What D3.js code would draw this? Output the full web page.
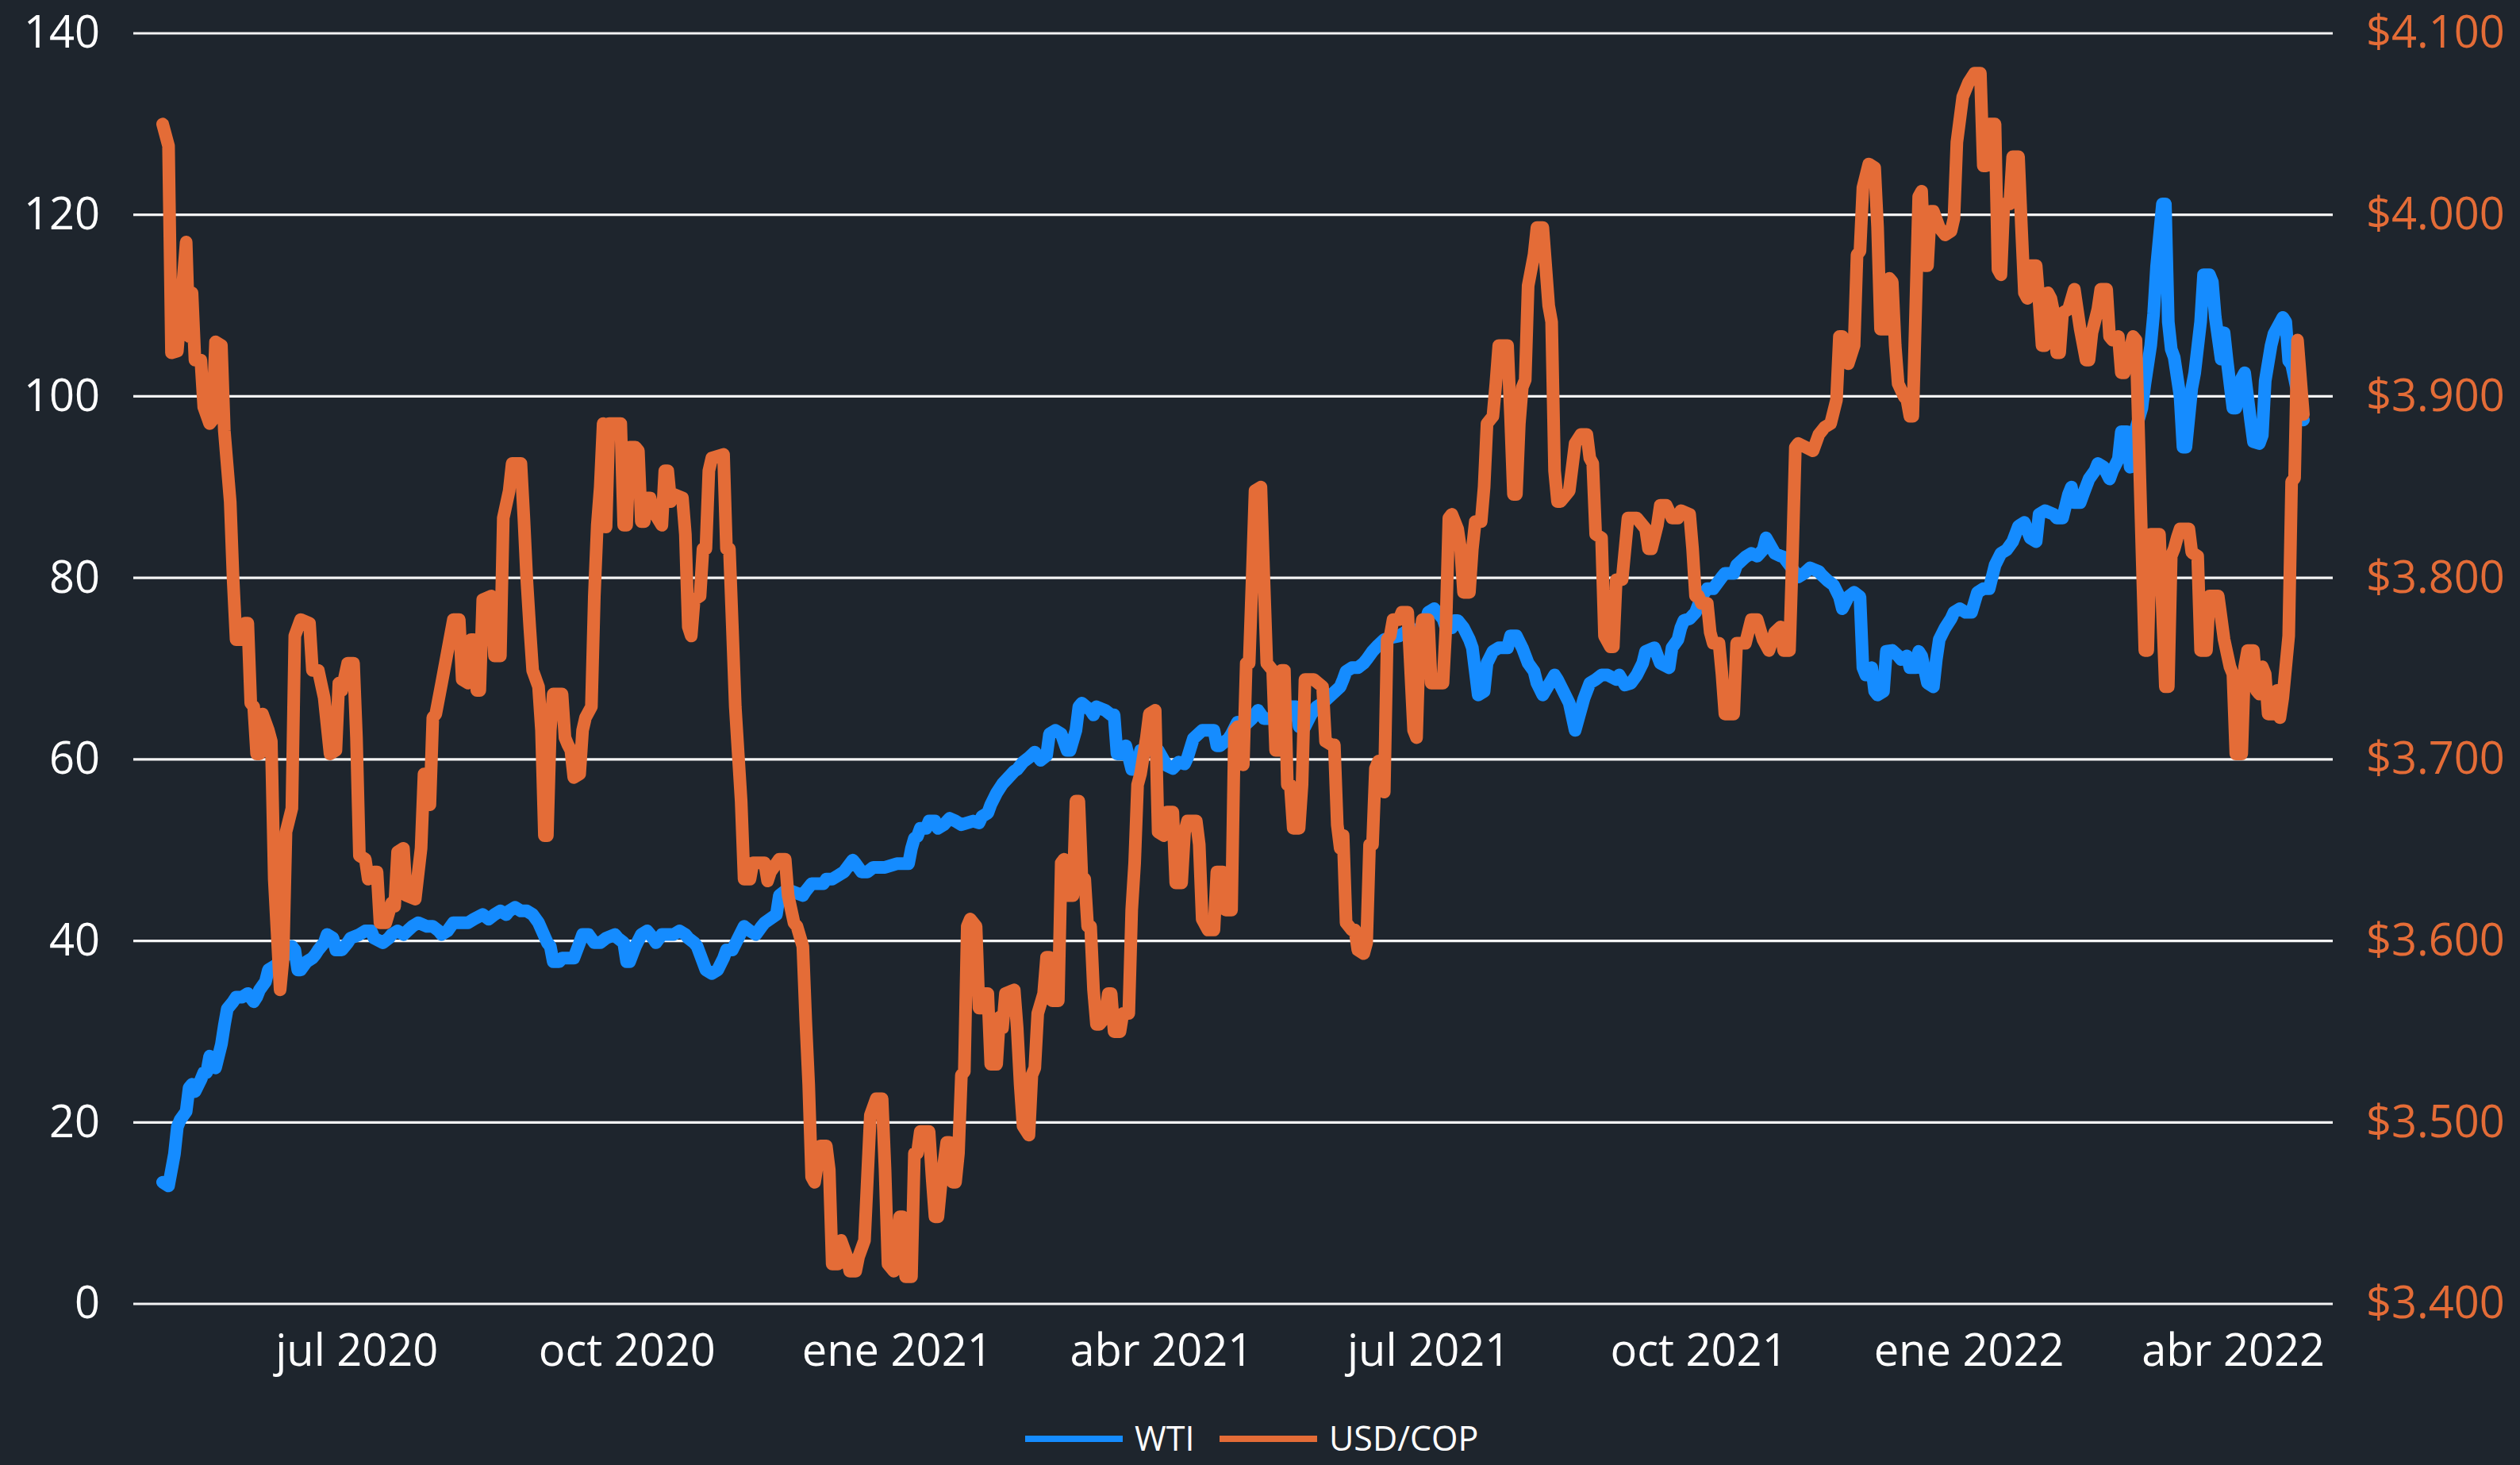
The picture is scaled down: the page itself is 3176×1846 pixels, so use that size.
<!DOCTYPE html>
<html>
<head>
<meta charset="utf-8">
<script src="https://cdn.jsdelivr.net/npm/d3@7"></script>
<style>
  html, body { margin: 0; padding: 0; background: #1e252d; }
  svg { display: block; }
</style>
</head>
<body>
<svg id="chart" width="3176" height="1846"></svg>
<script>
// ---------------- DATA ----------------
// Dates are stored as day offsets from this base date (2020-07-01)
const baseDate = "2020-07-01";
const axisStart = "2020-04-16";
const axisEnd = "2022-05-05";

const xTickDates = ["2020-07-01", "2020-10-01", "2021-01-01", "2021-04-01",
                    "2021-07-01", "2021-10-01", "2022-01-01", "2022-04-01"];
const xTickLabels = ["jul 2020", "oct 2020", "ene 2021", "abr 2021",
                     "jul 2021", "oct 2021", "ene 2022", "abr 2022"];
const leftTicks = [0, 20, 40, 60, 80, 100, 120, 140];
const rightTicks = [3400, 3500, 3600, 3700, 3800, 3900, 4000, 4100];
const seriesNames = ["WTI", "USD/COP"];

// WTI (USD per barrel): [days since baseDate, value]
const wti = [[-66,13.4],[-64,13],[-62,16.5],[-61,19.5],[-60,20.3],[-58,21.2],[-57,23.8],[-56,24.2],[-55,23.4],[-53,24.7],[-52,25.5],[-51,25.5],[-50,27.3],[-48,26],[-46,28.6],[-45,30.7],[-44,32.5],[-42,33.3],[-41,33.8],[-39,33.8],[-37,34.2],[-35,33.3],[-34,33.8],[-33,34.6],[-31,35.5],[-30,36.8],[-28,37.2],[-26,37.7],[-24,38.5],[-22,39.4],[-21,39],[-20,36.8],[-19,36.8],[-17,37.7],[-15,38.1],[-14,38.5],[-13,39],[-11,39.8],[-10,40.7],[-8,40.3],[-7,39],[-5,39],[-3,39.8],[-2,40.3],[1,40.7],[3,41.1],[5,41.1],[6,40.3],[9,39.8],[11,40.3],[12,40.7],[14,41.1],[16,40.7],[19,41.6],[21,42],[24,41.6],[26,41.6],[28,41.1],[29,40.7],[31,41.1],[33,42],[36,42],[38,42],[40,42.4],[43,42.9],[45,42.4],[47,42.9],[49,43.3],[51,42.9],[52,43.3],[54,43.7],[56,43.3],[58,43.3],[60,42.9],[62,42],[65,39.8],[66,39.4],[67,37.7],[69,37.7],[70,38.1],[72,38.1],[74,38.1],[76,39.8],[77,40.7],[79,40.7],[81,39.8],[83,39.8],[85,40.3],[88,40.7],[89,40.3],[91,39.8],[92,37.7],[93,37.7],[95,39.4],[97,40.7],[99,41.1],[101,40.3],[102,39.8],[104,40.7],[106,40.7],[108,40.7],[110,41.1],[112,40.7],[113,40.3],[115,39.8],[116,39.4],[119,36.8],[121,36.4],[123,36.8],[125,38.1],[126,39],[128,39],[130,40.3],[132,41.6],[134,41.1],[136,40.7],[138,41.6],[139,42],[143,42.9],[144,45],[146,45.5],[148,45.5],[152,45],[153,45.5],[155,46.3],[157,46.3],[159,46.3],[160,46.8],[162,46.8],[164,47.2],[166,47.6],[169,48.9],[170,48.5],[172,47.6],[174,47.6],[176,48.1],[178,48.1],[180,48.1],[184,48.5],[186,48.5],[188,48.5],[189,50.2],[190,51.3],[191,51.5],[192,52.4],[194,52.4],[195,53.2],[197,53.2],[198,52.4],[200,52.8],[202,53.5],[204,53.2],[206,52.8],[208,53],[210,53.2],[212,53],[213,53.7],[215,54.1],[216,55],[218,56.3],[220,57.3],[222,58],[224,58.7],[225,58.9],[227,59.7],[229,60.2],[231,60.8],[233,59.9],[235,60.4],[236,62.8],[238,63.2],[240,62.8],[242,61],[243,61],[245,63.2],[246,65.8],[247,66.2],[250,65.4],[251,64.9],[252,65.8],[255,65.4],[257,64.9],[258,64.9],[259,60.6],[261,60.6],[262,61.5],[264,58.9],[266,58.9],[267,61],[269,61],[273,61],[276,59.3],[278,59],[280,59.7],[282,59.5],[283,60.2],[285,62.3],[288,63.2],[290,63.2],[292,63.2],[293,61.5],[294,61.5],[297,62.3],[298,62.8],[300,64.1],[302,63.6],[305,64.5],[307,65.4],[309,64.5],[312,64.5],[313,64.1],[316,64.1],[318,65.8],[320,65.8],[321,63.6],[323,63.6],[325,64.9],[327,65.8],[329,66.2],[332,67.1],[335,68],[336,68.8],[337,69.7],[339,70.1],[341,70.1],[343,70.6],[344,71],[346,71.9],[348,72.6],[350,73.2],[352,73.4],[355,73.6],[357,74],[359,74.5],[361,73.6],[363,74],[365,76.2],[367,76.6],[370,75.5],[371,74.5],[373,74.5],[374,75.3],[375,75.3],[377,74.5],[379,73.2],[380,72.3],[382,67.1],[384,67.5],[385,70.6],[387,71.9],[389,72.3],[392,72.3],[393,73.6],[395,73.6],[397,72.3],[399,70.6],[401,69.7],[402,68.4],[404,67.1],[408,69.3],[409,68.8],[411,67.5],[413,66.2],[415,63.2],[418,66.7],[420,68.4],[422,68.8],[424,69.3],[426,69.3],[429,68.8],[430,69.3],[432,68.2],[434,68.4],[436,69.3],[438,70.6],[439,71.9],[442,72.3],[444,70.6],[447,70.1],[448,72.3],[450,73.2],[451,74.5],[452,75.3],[454,75.5],[456,76.2],[458,77.9],[460,78.8],[462,78.8],[465,80.1],[466,80.5],[469,80.5],[470,81.4],[473,82.3],[475,82.7],[477,82.4],[479,83.1],[480,84.4],[483,82.7],[485,82.4],[486,82.3],[489,81],[491,80.1],[493,80.5],[495,81.1],[498,80.7],[499,80.3],[501,79.7],[503,79.2],[505,77.9],[506,76.6],[508,77.9],[510,78.4],[512,77.9],[513,70.1],[514,69.3],[515,69.3],[516,70.1],[517,67.5],[518,67.1],[520,67.5],[521,71.9],[523,72],[525,71.4],[526,71],[528,71.4],[529,70.1],[531,70.1],[532,71.9],[533,71.4],[535,68.4],[537,68],[538,71],[539,73.2],[541,74.5],[543,75.5],[544,76.2],[546,76.6],[548,76.2],[550,76.2],[552,78.4],[554,78.8],[556,78.8],[558,81.4],[560,82.7],[562,83.1],[564,84],[566,85.7],[568,86.1],[570,84.4],[572,84],[573,87],[575,87.4],[578,87],[579,86.6],[581,86.6],[583,89.2],[584,90],[585,88.3],[587,88.3],[588,89.2],[590,90.9],[592,91.8],[593,92.6],[595,92.2],[597,90.9],[598,91.8],[600,93.1],[601,96.1],[603,96.1],[604,92.2],[606,96.5],[608,98.7],[609,101.3],[611,105.6],[612,109.1],[613,114.3],[615,121.2],[616,121.2],[617,108.2],[618,105.2],[619,104.3],[621,100],[622,94.4],[623,94.4],[625,100.9],[626,102.6],[628,108.2],[629,113.4],[631,113.4],[632,112.6],[633,108.7],[635,104.1],[636,107],[637,104],[639,98.7],[640,98.7],[642,102],[643,102.6],[645,97.4],[646,95],[648,94.8],[649,95.7],[650,101.7],[652,105.6],[653,106.9],[656,108.7],[657,108.2],[658,103.9],[659,103.5],[661,100.4],[662,98.3],[663,97.4]];

// USD/COP (pesos per dollar): [days since baseDate, value]
const usdcop = [[-66,4050],[-64,4038],[-63,3924],[-61,3925],[-58,3985],[-57,3933],[-56,3957],[-55,3920],[-53,3920],[-52,3894],[-50,3885],[-49,3887],[-48,3930],[-46,3928],[-45,3881],[-43,3842],[-42,3799],[-41,3766],[-39,3766],[-38,3775],[-37,3775],[-36,3731],[-35,3729],[-34,3703],[-33,3703],[-32,3725],[-30,3716],[-29,3710],[-28,3634],[-26,3573],[-25,3590],[-24,3660],[-22,3673],[-21,3768],[-19,3777],[-16,3775],[-15,3749],[-13,3749],[-11,3734],[-9,3703],[-7,3705],[-6,3742],[-5,3738],[-3,3753],[-1,3753],[0,3712],[1,3647],[3,3645],[4,3634],[6,3638],[7,3638],[8,3610],[10,3610],[12,3621],[13,3619],[14,3649],[16,3651],[17,3625],[20,3623],[22,3651],[23,3692],[24,3692],[25,3675],[26,3723],[27,3725],[29,3742],[33,3777],[35,3777],[36,3744],[38,3742],[39,3766],[40,3766],[41,3738],[42,3738],[43,3788],[46,3790],[47,3757],[49,3757],[50,3833],[52,3848],[53,3863],[56,3863],[57,3833],[58,3799],[59,3773],[60,3749],[62,3740],[63,3716],[64,3658],[65,3658],[66,3716],[67,3736],[70,3736],[71,3712],[72,3708],[73,3705],[74,3690],[76,3692],[77,3716],[78,3723],[80,3729],[81,3790],[82,3829],[83,3850],[84,3885],[85,3828],[86,3885],[89,3885],[90,3885],[91,3829],[92,3829],[93,3872],[95,3872],[96,3870],[97,3831],[98,3831],[99,3844],[100,3844],[101,3837],[104,3829],[105,3859],[106,3859],[107,3842],[108,3846],[111,3844],[112,3824],[113,3773],[114,3768],[115,3788],[117,3790],[118,3816],[119,3816],[120,3859],[121,3866],[125,3868],[126,3816],[127,3816],[128,3773],[129,3729],[131,3677],[132,3634],[134,3634],[135,3643],[137,3643],[139,3643],[140,3633],[141,3638],[144,3645],[146,3645],[147,3625],[149,3610],[150,3608],[152,3597],[153,3556],[154,3521],[155,3470],[156,3467],[158,3487],[160,3487],[161,3474],[162,3422],[164,3422],[165,3435],[167,3426],[168,3418],[170,3418],[171,3426],[173,3435],[175,3504],[177,3513],[179,3513],[180,3474],[181,3422],[183,3418],[185,3448],[186,3448],[187,3415],[189,3415],[190,3483],[191,3483],[192,3495],[195,3495],[196,3470],[197,3448],[198,3448],[199,3465],[201,3489],[202,3489],[203,3467],[204,3467],[205,3483],[206,3526],[207,3528],[208,3608],[209,3612],[211,3608],[212,3563],[213,3563],[214,3571],[215,3571],[216,3532],[218,3532],[219,3558],[220,3552],[221,3571],[224,3573],[225,3552],[226,3521],[227,3498],[229,3493],[230,3526],[231,3530],[232,3560],[234,3571],[235,3591],[236,3591],[237,3567],[239,3567],[240,3643],[241,3645],[242,3625],[244,3625],[245,3677],[246,3677],[247,3636],[248,3634],[249,3608],[250,3608],[251,3573],[252,3554],[253,3554],[255,3558],[256,3571],[257,3571],[258,3550],[260,3550],[261,3560],[263,3560],[264,3617],[265,3643],[266,3686],[267,3692],[269,3712],[270,3725],[272,3727],[273,3660],[275,3658],[276,3671],[278,3671],[279,3632],[281,3632],[282,3660],[283,3666],[286,3666],[287,3653],[288,3612],[290,3606],[292,3606],[293,3638],[295,3638],[296,3617],[298,3617],[299,3716],[300,3718],[301,3699],[302,3697],[303,3753],[304,3753],[305,3799],[306,3848],[308,3850],[309,3800],[310,3753],[312,3749],[313,3705],[314,3705],[315,3749],[316,3749],[317,3686],[318,3686],[319,3662],[321,3662],[322,3686],[323,3744],[326,3744],[329,3740],[330,3710],[332,3708],[333,3708],[334,3664],[335,3651],[336,3658],[337,3610],[339,3606],[340,3606],[341,3595],[343,3593],[344,3599],[345,3653],[346,3653],[347,3695],[348,3699],[350,3682],[351,3766],[352,3768],[353,3777],[355,3777],[356,3781],[358,3781],[360,3716],[361,3712],[362,3766],[363,3777],[365,3777],[366,3742],[370,3742],[371,3773],[372,3833],[373,3835],[375,3827],[376,3816],[377,3792],[379,3792],[380,3816],[381,3831],[383,3831],[384,3850],[385,3885],[387,3889],[388,3907],[389,3928],[392,3928],[393,3889],[394,3846],[395,3846],[396,3885],[397,3905],[398,3909],[399,3961],[401,3978],[402,3993],[404,3993],[406,3950],[407,3941],[408,3859],[409,3842],[410,3842],[412,3846],[413,3848],[415,3874],[417,3879],[419,3879],[420,3866],[421,3863],[422,3824],[424,3822],[425,3768],[427,3762],[428,3762],[429,3799],[431,3799],[433,3833],[436,3833],[439,3827],[440,3816],[441,3816],[443,3829],[444,3840],[446,3840],[448,3833],[450,3833],[451,3837],[454,3835],[455,3816],[456,3790],[457,3790],[458,3786],[460,3786],[461,3770],[462,3764],[464,3764],[465,3747],[466,3725],[469,3725],[470,3764],[473,3764],[475,3777],[477,3777],[479,3766],[481,3760],[483,3770],[485,3773],[486,3760],[488,3760],[489,3812],[490,3872],[491,3874],[496,3870],[498,3879],[500,3883],[502,3885],[504,3898],[505,3933],[506,3933],[508,3918],[510,3928],[511,3978],[512,3980],[513,4015],[515,4028],[517,4026],[518,3993],[519,3937],[521,3937],[522,3965],[523,3963],[524,3928],[525,3907],[527,3900],[528,3898],[529,3889],[530,3889],[532,4010],[533,4013],[534,3972],[535,3972],[536,4002],[537,4002],[539,3993],[541,3989],[543,3991],[544,3998],[545,4040],[547,4065],[549,4073],[551,4078],[553,4078],[554,4027],[555,4027],[556,4050],[558,4050],[559,3970],[560,3967],[561,4006],[563,4006],[564,4032],[566,4032],[567,3993],[568,3957],[569,3954],[570,3972],[572,3972],[573,3952],[574,3928],[575,3928],[576,3957],[577,3954],[578,3946],[579,3924],[580,3924],[581,3946],[583,3948],[585,3959],[587,3937],[589,3920],[590,3920],[591,3935],[593,3948],[594,3959],[596,3959],[597,3933],[598,3931],[600,3933],[601,3913],[602,3913],[604,3926],[605,3933],[606,3931],[608,3816],[609,3760],[610,3760],[611,3824],[614,3824],[616,3740],[617,3740],[618,3812],[619,3816],[620,3822],[621,3827],[624,3827],[625,3814],[627,3812],[628,3760],[630,3760],[631,3790],[634,3790],[636,3766],[638,3751],[639,3747],[640,3703],[642,3703],[643,3751],[644,3760],[646,3760],[647,3738],[648,3736],[649,3751],[650,3747],[651,3725],[653,3725],[654,3738],[655,3723],[656,3734],[657,3751],[658,3768],[659,3853],[660,3855],[661,3931],[663,3890]];

// ---------------- CHART ----------------
const W = 3176, H = 1846;
const plot = { left: 168, right: 2940, top: 42, bottom: 1643 };
const colors = { bg: "#1e252d", wti: "#158cff", cop: "#e46c37", text: "#ffffff", grid: "#f4f4f4" };
const font = "'Open Sans', 'Noto Sans', sans-serif";

const parseISO = d3.utcParse("%Y-%m-%d");
const base = parseISO(baseDate);
const toDate = off => d3.utcDay.offset(base, off);

const svg = d3.select("#chart");
svg.append("rect").attr("width", W).attr("height", H).attr("fill", colors.bg);

const x = d3.scaleUtc()
  .domain([parseISO(axisStart), parseISO(axisEnd)])
  .range([plot.left, plot.right]);
const yL = d3.scaleLinear().domain([0, 140]).range([plot.bottom, plot.top]);
const yR = d3.scaleLinear().domain([3400, 4100]).range([plot.bottom, plot.top]);

// gridlines
svg.append("g").selectAll("line").data(leftTicks).join("line")
  .attr("x1", plot.left).attr("x2", plot.right)
  .attr("y1", d => yL(d)).attr("y2", d => yL(d))
  .attr("stroke", colors.grid).attr("stroke-width", 3.2);

// left axis
const gL = svg.append("g").attr("transform", `translate(${plot.left},0)`)
  .call(d3.axisLeft(yL).tickValues(leftTicks).tickSize(0).tickPadding(42).tickFormat(d3.format("d")));
gL.select(".domain").remove();
gL.selectAll("text").attr("fill", colors.text).style("font-family", font).style("font-size", "56px");

// right axis
const locale = d3.formatLocale({ decimal: ",", thousands: ".", grouping: [3], currency: ["$", ""] });
const gR = svg.append("g").attr("transform", `translate(${plot.right},0)`)
  .call(d3.axisRight(yR).tickValues(rightTicks).tickSize(0).tickPadding(42).tickFormat(locale.format("$,.0f")));
gR.select(".domain").remove();
gR.selectAll("text").attr("fill", colors.cop).style("font-family", font).style("font-size", "56px");

// bottom axis
const tickDates = xTickDates.map(parseISO);
const gB = svg.append("g").attr("transform", `translate(0,${plot.bottom})`)
  .call(d3.axisBottom(x).tickValues(tickDates).tickSize(0).tickPadding(38)
    .tickFormat((d, i) => xTickLabels[i]));
gB.select(".domain").remove();
gB.selectAll("text").attr("fill", colors.text).style("font-family", font).style("font-size", "56px");

// lines
const lineL = d3.line().x(d => x(toDate(d[0]))).y(d => yL(d[1]));
const lineR = d3.line().x(d => x(toDate(d[0]))).y(d => yR(d[1]));

svg.append("path").datum(wti).attr("d", lineL)
  .attr("fill", "none").attr("stroke", colors.wti).attr("stroke-width", 16)
  .attr("stroke-linejoin", "round").attr("stroke-linecap", "round");
svg.append("path").datum(usdcop).attr("d", lineR)
  .attr("fill", "none").attr("stroke", colors.cop).attr("stroke-width", 16)
  .attr("stroke-linejoin", "round").attr("stroke-linecap", "round");

// legend
const legendY = 1813;
const legendItems = [
  { name: seriesNames[0], color: colors.wti, x: 1292 },
  { name: seriesNames[1], color: colors.cop, x: 1537 }
];
const lg = svg.append("g");
legendItems.forEach(it => {
  lg.append("line").attr("x1", it.x).attr("x2", it.x + 123)
    .attr("y1", legendY).attr("y2", legendY)
    .attr("stroke", it.color).attr("stroke-width", 8);
  lg.append("text").attr("x", it.x + 138).attr("y", legendY + 15)
    .attr("fill", colors.text).style("font-family", font).style("font-size", "43px")
    .text(it.name);
});
</script>
</body>
</html>
